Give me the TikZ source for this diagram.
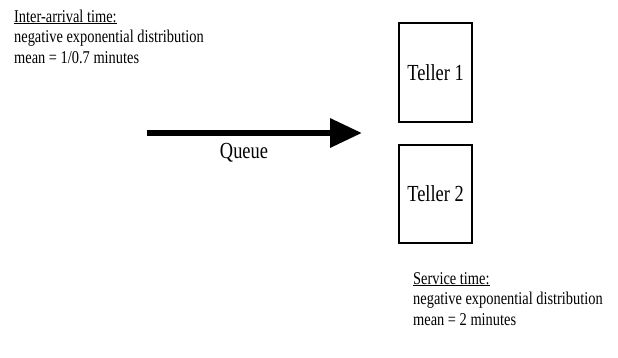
\documentclass[tikz,border=0pt]{standalone}
\usepackage{fontspec}
\setmainfont[FakeStretch=0.8]{Liberation Serif}
\usetikzlibrary{arrows.meta}
\begin{document}
\begin{tikzpicture}[x=1pt,y=-1pt,
  txt/.style={font=\fontsize{18}{20.75}\selectfont, inner sep=0pt},
  bigtxt/.style={font=\fontsize{23}{26}\selectfont, inner sep=0pt},
  tellerbox/.style={draw, line width=1.2pt, minimum width=73pt, inner sep=0pt, font=\fontsize{23}{26}\selectfont},
  bigarrow/.style={line width=6.5pt, -{Triangle[length=32pt,width=28pt]}}]
\useasboundingbox (0,0) rectangle (618,357);
\node[txt, anchor=base west, align=left] (arr) at (14,63.5)
  {\underline{Inter-arrival time:}\\negative exponential distribution\\mean = 1/0.7 minutes};
\node[tellerbox, minimum height=99pt] (t1) at (435.5,72.5) {Teller 1};
\node[tellerbox, minimum height=98pt] (t2) at (435.5,194) {Teller 2};
\coordinate (qs) at (147,133);
\coordinate (qe) at (362,133);
\draw[bigarrow] (qs) -- (qe);
\node[bigtxt] (q) at (244,153) {Queue};
\node[txt, anchor=base west, align=left] (serv) at (413,325.5)
  {\underline{Service time:}\\negative exponential distribution\\mean = 2 minutes};
\end{tikzpicture}
\end{document}
